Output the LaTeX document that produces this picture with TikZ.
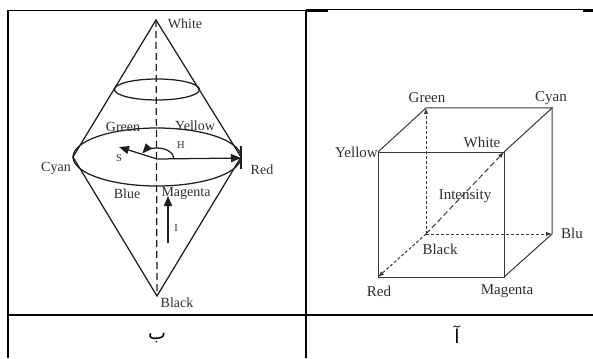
\documentclass[tikz,border=0pt]{standalone}
\usepackage{fontspec}
\setmainfont{Liberation Serif}
\newfontfamily\arabicfont[Script=Arabic]{DejaVu Sans}
\TeXXeTstate=1
\usetikzlibrary{arrows.meta}
\definecolor{ink}{HTML}{1E1E1E}
\definecolor{cubeink}{HTML}{383838}
\definecolor{txt}{HTML}{2E2E2E}
\begin{document}
\begin{tikzpicture}[x=1pt,y=-1pt,
  frame/.style={line width=2pt,draw=black},
  coneline/.style={draw=ink,line width=1.25pt},
  cubeline/.style={draw=cubeink,line width=1pt},
  lbl/.style={text=txt,inner sep=0pt,font=\fontsize{14}{16}\selectfont},
  clbl/.style={text=txt,inner sep=0pt,font=\fontsize{15}{17}\selectfont},
  small/.style={text=txt,inner sep=0pt,font=\fontsize{10.5}{12}\selectfont},
  bigtip/.style={-{Triangle[length=10pt,width=8pt]}},
  smalltip/.style={-{Latex[length=6pt,width=4.5pt]}},
  shortdash/.style={dash pattern=on 3pt off 2pt},
  longdash/.style={dash pattern=on 5.5pt off 3pt},
  arab/.style={text=black,inner sep=0pt,font=\arabicfont\fontsize{19}{21}\selectfont}]
\useasboundingbox (0,0) rectangle (593,358);
% ---------- table ----------
\coordinate (tl) at (8,10.5);
\coordinate (tm) at (306,10.5);
\coordinate (tr) at (593,10);
\coordinate (bl) at (8,358);
\coordinate (bm) at (306,358);
\coordinate (ml) at (8,315);
\coordinate (mr) at (593,315);
\draw[line width=1.6pt] (tl) -- (tm);
\draw[line width=1pt] (306,10) -- (tr);
\draw[line width=2pt] (306,11) -- (328,11);
\draw[line width=2pt] (583,11) -- (593,11);
\draw[frame] (tl) -- (bl);
\draw[frame] (306,10) -- (bm);
\draw[frame] (ml) -- (mr);
% ---------- cone ----------
\coordinate (W) at (156,20);
\coordinate (K) at (157,296);
\coordinate (C) at (73,157);
\coordinate (R) at (241,157);
\coordinate (O) at (157,159);
\draw[coneline] (C) -- (W) -- (R);
\draw[coneline] (C) -- (K) -- (R);
\draw[coneline] (157,89.5) ellipse[x radius=42.5,y radius=10.5];
\draw[coneline] (157,157) ellipse[x radius=84,y radius=29];
\draw[coneline,dash pattern=on 7pt off 4pt] (W) -- (K);
\draw[coneline] (241,146) -- (241,169);
\coordinate (Hend) at (241,158);
\coordinate (Send) at (119,147);
\draw[coneline,bigtip] (O) -- (Hend);
\draw[coneline,bigtip] (O) -- (Send);
\draw[coneline,bigtip] (174,159) arc[start angle=0,end angle=-150,x radius=17,y radius=11];
\coordinate (Ib) at (168,243);
\coordinate (It) at (168,196);
\draw[coneline,line width=1.8pt,bigtip] (Ib) -- (It);
\node[lbl] (lW) at (185,24) {White};
\node[lbl] (lK) at (177,303) {Black};
\node[lbl] (lG) at (123,127) {Green};
\node[lbl] (lY) at (195,126) {Yellow};
\node[lbl] (lC) at (56,168) {Cyan};
\node[lbl] (lR) at (262,170) {Red};
\node[lbl] (lB) at (127,194) {Blue};
\node[lbl] (lM) at (186,193) {Magenta};
\node[small] (lH) at (181,145) {H};
\node[small] (lS) at (119,158) {S};
\node[small] (lI) at (176,228) {I};
\node[arab] (lba) at (157,338) {\beginR ب\endR};
% ---------- cube ----------
\coordinate (cY) at (378,152);
\coordinate (cW) at (504,152);
\coordinate (cR) at (378,277);
\coordinate (cM) at (504,277);
\coordinate (cG) at (426,108);
\coordinate (cC) at (552,108);
\coordinate (cBl) at (552,234);
\coordinate (cK) at (426,234);
\draw[cubeline] (cY) -- (cW) -- (cM) -- (cR) -- cycle;
\draw[cubeline] (cY) -- (cG) -- (cC) -- (cW);
\draw[cubeline] (cC) -- (cBl) -- (cM);
\draw[cubeline,shortdash,smalltip] (cK) -- (cG);
\draw[cubeline,shortdash,smalltip] (cK) -- (cBl);
\draw[cubeline,shortdash,smalltip] (cK) -- (cR);
\draw[cubeline,longdash,smalltip] (cK) -- (cW);
\node[clbl] (tG) at (427,98) {Green};
\node[clbl] (tC) at (551,98) {Cyan};
\node[clbl,anchor=east] (tY) at (378,152) {Yellow};
\node[clbl] (tW) at (482,142) {White};
\node[clbl] (tI) at (465,196) {Intensity};
\node[clbl] (tK) at (440,249) {Black};
\node[clbl] (tB) at (572,233) {Blu};
\node[clbl] (tR) at (379,291) {Red};
\node[clbl] (tM) at (507,291) {Magenta};
\node[arab] (lalef) at (457,335) {\beginR آ\endR};
\end{tikzpicture}
\end{document}
